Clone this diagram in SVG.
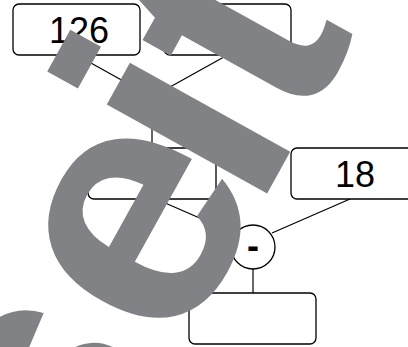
<svg xmlns="http://www.w3.org/2000/svg" width="408" height="347" viewBox="0 0 408 347">
<style>
.box{fill:#fff;stroke:#000;stroke-width:1.3}
.num{font-family:"Liberation Sans",Arial,sans-serif;font-size:36px;fill:#000;text-anchor:middle}
.conn line{stroke:#000;stroke-width:1.2}
.op{fill:#fff;stroke:#000;stroke-width:1.3}
.wm{font-family:"Liberation Sans",Arial,sans-serif;font-weight:bold;font-size:347px;fill:#808285}
</style>
<rect width="408" height="347" fill="#fff"/>
<g id="connectors" class="conn">
<line x1="76.5" y1="55" x2="152" y2="97"/>
<line x1="227.5" y1="55" x2="152" y2="97"/>
<line x1="152" y1="97" x2="152" y2="148"/>
<line x1="156" y1="199" x2="234" y2="233"/>
<line x1="350" y1="199" x2="272" y2="233"/>
<line x1="253" y1="269" x2="253" y2="293"/>
</g>
<g id="n126"><rect class="box" x="13" y="4" width="127" height="51" rx="6"/><text class="num" x="79" y="43">126</text></g>
<g id="ntop"><rect class="box" x="164" y="4" width="127" height="51" rx="6"/></g>
<g id="nmid"><rect class="box" x="88" y="148" width="128" height="51" rx="6"/></g>
<g id="n18"><rect class="box" x="291" y="148" width="127" height="51" rx="6"/><text class="num" x="355" y="187">18</text></g>
<g id="nminus"><circle class="op" cx="253" cy="247" r="22"/><text class="num" x="253" y="258" font-weight="bold">-</text></g>
<g id="nresult"><rect class="box" x="189" y="293" width="127" height="51" rx="6"/></g>
<text class="wm" transform="translate(279,172) rotate(-61)" x="-412 -212 -48.7 45" y="0">seit</text>
</svg>
